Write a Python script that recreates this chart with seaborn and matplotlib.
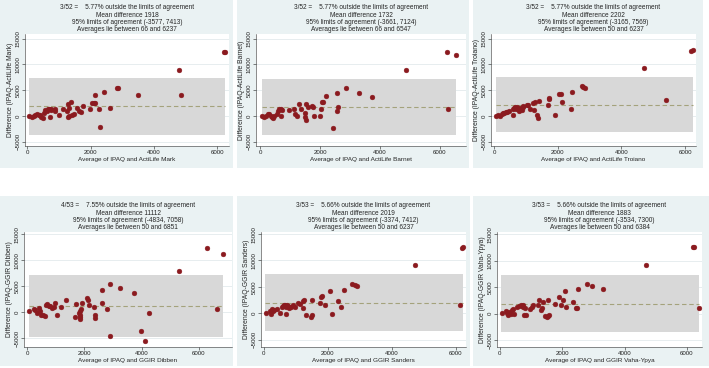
import matplotlib
matplotlib.use("Agg")
import matplotlib.pyplot as plt
from matplotlib.patches import Rectangle
import seaborn as sns
import pandas as pd

# --- data ----------------------------------------------------------------
methods = ["ActiLife Mark", "ActiLife Barnet", "ActiLife Troiano",
           "GGIR Dibben", "GGIR Sanders", "GGIR Vaha-Ypya"]
outside_text = ["3/52 =    5.77%", "3/52 =    5.77%", "3/52 =    5.77%",
                "4/53 =    7.55%", "3/53 =    5.66%", "3/53 =    5.66%"]
mean_text = ["1918", "1732", "2202", "11112", "2019", "1883"]
mean_diff = [1918, 1732, 2202, 1112, 2019, 1883]
loa_low = [-3577, -3661, -3165, -4834, -3374, -3534]
loa_high = [7413, 7124, 7569, 7058, 7412, 7300]
avg_min = [66, 66, 50, 50, 50, 50]
avg_max = [6237, 6547, 6237, 6851, 6237, 6384]

mark_avg = [63, 147, 200, 250, 305, 360, 410, 440, 485, 515, 570, 620, 650, 695, 735, 760,
            715, 885, 885, 1010, 1115, 1250, 1275, 1305, 1275, 1305, 1380, 1410, 1485, 1570,
            1620, 1705, 1760, 1990, 2040, 2095, 2150, 2150, 2260, 2285, 2430, 2620, 2840,
            2870, 3495, 4800, 4840, 6210, 6237]
mark_diff = [0, -190, 60, 190, 380, 250, 130, -190, -380, 570, 1080, 890, 1390, 1460, 1330, 1200,
             -190, 1330, 890, 190, 1330, 1010, 2340, 1520, -250, 60, 2780, 130, 380, 1650,
             890, 700, 1960, 1390, 2470, 2590, 4050, 2590, 1390, -2150, 4620, 1580, 5380,
             5420, 4050, 8860, 4110, 12400, 12480]

barnet_avg = [67, 144, 200, 255, 310, 355, 400, 445, 480, 555, 590, 645, 700, 730, 710, 980,
              1145, 1180, 1235, 1310, 1365, 1490, 1535, 1500, 1535, 1590, 1735, 1800, 1780,
              2035, 2010, 2065, 2110, 2210, 2420, 2565, 2580, 2610, 2865, 3290, 3720, 4880,
              6245, 6280, 6547]
barnet_diff = [0, -130, 60, 320, 450, 60, -190, -320, -60, 380, 1020, 1340, 1340, 1210, 0, 1210,
               1340, 380, 60, 2420, 1340, 570, 2420, -190, -700, 1660, 1970, -60, 1850,
               1460, 60, 2680, 2800, 3890, -2290, 4390, 890, 1660, 5350, 4520, 3630, 8850,
               12480, 1340, 11850]

troiano_avg = [52, 125, 180, 230, 260, 305, 355, 410, 460, 575, 575, 620, 650, 680, 700, 745,
               765, 805, 830, 860, 890, 910, 1015, 1070, 1120, 1225, 1265, 1255, 1350, 1380,
               1415, 1675, 1705, 1730, 1915, 2050, 2095, 2125, 2400, 2450, 2755, 2795, 2850,
               4700, 5390, 6200, 6237]
troiano_diff = [60, 130, 0, 320, 520, 650, 770, 840, 900, 260, 1290, 1550, 1680, 1420, 1810, 1290,
                970, 1550, 1290, 1100, 1740, 1940, 2130, 2060, 1290, 2580, 2710, 1100, 130, -320,
                2840, 2190, 3230, 3480, 260, 4260, 4260, 2770, 1290, 4710, 5740, 5550, 5480,
                9230, 3100, 12650, 12750]

dibben_avg = [70, 220, 280, 340, 400, 455, 490, 550, 605, 655, 690, 745, 805, 860, 920, 955,
              1040, 1190, 1365, 1700, 1680, 1820, 1830, 1855, 1830, 1840, 1890, 1910, 2100,
              2120, 2145, 2320, 2355, 2380, 2610, 2620, 2785, 2890, 2890, 3250, 3730, 3960,
              4115, 4255, 5290, 6290, 6650, 6830]
dibben_diff = [130, 580, 380, -260, 770, 260, -510, -640, -830, 1280, 1540, 1220, 1150, 770, 900, 1790,
               -640, 960, 2370, 1540, -900, -190, -510, 260, -900, -1280, 580, 1730, 2690,
               2310, 1280, 900, -640, -1150, 1730, 4230, 580, 5380, -4550, 4550, 3590, -3720,
               -5510, -190, 7950, 12240, 580, 11220]

sanders_avg = [73, 200, 230, 260, 300, 330, 405, 510, 570, 615, 645, 675, 695, 720, 750, 695,
               800, 850, 925, 990, 1060, 1130, 1215, 1270, 1240, 1320, 1475, 1505, 1495, 1755,
               1790, 1820, 1910, 2080, 2120, 2320, 2430, 2495, 2755, 2840, 2910, 4720, 6130,
               6200, 6237]
sanders_diff = [60, 500, -130, 750, 500, 690, 810, 60, 1130, 1310, 1500, 1630, 1130, 1500, 1310, -130,
                1000, 1130, 1630, 1250, 1940, 1750, 2250, 2440, 1000, -380, -750, -250, 2500, 1940,
                3000, 3250, 1630, 4130, -130, 2250, 1130, 4440, 5500, 5380, 5190, 9060, 1500,
                12400, 12500]

vaha_avg = [65, 200, 245, 280, 310, 350, 395, 440, 460, 565, 630, 670, 705, 735, 760, 780, 845,
            820, 970, 1025, 1055, 1240, 1270, 1315, 1345, 1400, 1450, 1505, 1560, 1590, 1560,
            1770, 1910, 1955, 2015, 2100, 2125, 2360, 2445, 2465, 2520, 2785, 2955, 3300,
            4705, 6200, 6240, 6384]
vaha_diff = [130, 510, 130, -250, 380, -130, 630, 820, 0, 1270, 1520, 1650, 1390, 1580, 1270, -250, -250,
             1010, 890, 1270, 1650, 1650, 2530, 760, 1140, 2150, -510, -630, -440, -250, 2530,
             1900, 3100, 1580, 2660, 4180, 1270, 2280, 1140, 1140, 4560, 5570, 5190, 4560,
             9180, 12480, 12580, 1140]

averages = [mark_avg, barnet_avg, troiano_avg, dibben_avg, sanders_avg, vaha_avg]
differences = [mark_diff, barnet_diff, troiano_diff, dibben_diff, sanders_diff, vaha_diff]

# --- layout (pixels in a 709x368 canvas) ----------------------------------
W, H = 709, 368
bg_boxes = [(0, 0, 233, 168), (237, 0, 469, 168), (473, 0, 703, 168),
            (0, 196, 233, 366), (237, 196, 470, 366), (473, 196, 709, 366)]
ax_boxes = [(25, 34, 229, 146), (256, 34, 466, 146), (491, 34, 696, 146),
            (24, 232, 232, 347), (261, 232, 466, 347), (497, 232, 702, 347)]
xlims = [(-73, 6363), (-133, 6867), (-104, 6343), (-115, 7157), (-84, 6322), (-87, 6484)]
ylims = [(-5800, 15900), (-5800, 15900), (-5800, 15900),
         (-6700, 15400), (-6400, 15400), (-6300, 15400)]

sns.set_theme(style="white")
plt.rcParams['font.family'] = ['Liberation Sans', 'DejaVu Sans']

BG = "#eaf2f3"
MAROON = "#8b1a1f"
FS = 4.4

fig = plt.figure(figsize=(W / 100, H / 100), dpi=100)
fig.patch.set_facecolor("white")

for i in range(6):
    x0, y0, x1, y1 = bg_boxes[i]
    fig.add_artist(Rectangle((x0 / W, 1 - y1 / H), (x1 - x0) / W, (y1 - y0) / H,
                             transform=fig.transFigure, facecolor=BG, edgecolor="none",
                             zorder=0))
    a0, b0, a1, b1 = ax_boxes[i]
    ax = fig.add_axes([a0 / W, 1 - b1 / H, (a1 - a0) / W, (b1 - b0) / H])
    ax.set_facecolor("white")

    # grid
    for yv in [-5000, 0, 5000, 10000, 15000]:
        ax.axhline(yv, color="#e3eaec", lw=0.6, zorder=0)

    # limits of agreement band + mean difference
    ax.fill_between([avg_min[i], avg_max[i]], loa_low[i], loa_high[i],
                    color="#d8d8d8", lw=0, zorder=1)
    ax.plot([avg_min[i], avg_max[i]], [mean_diff[i], mean_diff[i]],
            color="#a4a27c", lw=0.8, ls=(0, (4, 2.5)), zorder=2)

    df = pd.DataFrame({"avg": averages[i], "diff": differences[i]})
    sns.scatterplot(data=df, x="avg", y="diff", ax=ax, color=MAROON, s=12,
                    edgecolor=MAROON, linewidth=0.3, zorder=3)

    ax.set_xlim(*xlims[i])
    ax.set_ylim(*ylims[i])
    ax.set_xticks([0, 2000, 4000, 6000])
    ax.set_yticks([-5000, 0, 5000, 10000, 15000])
    ax.tick_params(axis="both", labelsize=FS, length=2, width=0.4, pad=1,
                   colors="#222222", bottom=True, left=True)
    for lab in ax.get_yticklabels():
        lab.set_rotation(90)
        lab.set_va("center")

    for side in ["top", "right"]:
        ax.spines[side].set_visible(False)
    for side in ["left", "bottom"]:
        ax.spines[side].set_color("#333333")
        ax.spines[side].set_linewidth(0.4)

    ax.set_xlabel(f"Average of IPAQ and {methods[i]}", fontsize=FS + 0.2, labelpad=1)
    ax.set_ylabel(f"Difference (IPAQ-{methods[i]})", fontsize=FS + 0.5, labelpad=1)
    ax.set_title(f"{outside_text[i]} outside the limits of agreement\n"
                 f"Mean difference {mean_text[i]}\n"
                 f"95% limits of agreement ({loa_low[i]}, {loa_high[i]})\n"
                 f"Averages lie between {avg_min[i]} and {avg_max[i]}",
                 fontsize=FS + 0.3, linespacing=1.05, pad=2)

fig.savefig("out.png", dpi=100, facecolor="white")
